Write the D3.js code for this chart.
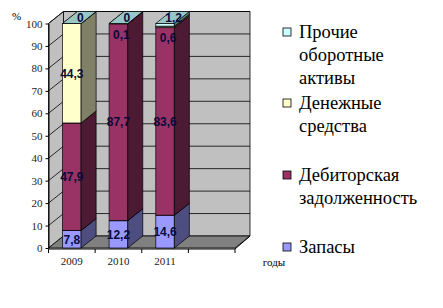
<!DOCTYPE html>
<html>
<head>
<meta charset="utf-8">
<script src="https://cdn.jsdelivr.net/npm/d3@7"></script>
<style>
  html, body { margin: 0; padding: 0; background: #fff; }
  svg { display: block; }
  .serif { font-family: "Liberation Serif", "Times New Roman", "DejaVu Serif", serif; }
  .sans { font-family: "Liberation Sans", Arial, sans-serif; }
</style>
</head>
<body>
<div id="chart"></div>
<script>
// data
var years = ["2009", "2010", "2011"];
var slots = ["2009", "2010", "2011", ""];
var zapasy = [7.8, 12.2, 14.6];
var debitor = [47.9, 87.7, 83.6];
var dengi = [44.3, 0.1, 0.6];
var prochie = [0, 0, 1.2];
var yTicks = [0, 10, 20, 30, 40, 50, 60, 70, 80, 90, 100];
var seriesNames = ["Запасы", "Дебиторская задолженность", "Денежные средства", "Прочие оборотные активы"];

var series = [
    {name: seriesNames[0], values: zapasy, front: "#9999ff", side: "#4d4d80", top: "#7373bf"},
    {name: seriesNames[1], values: debitor, front: "#993366", side: "#4d1a33", top: "#732650"},
    {name: seriesNames[2], values: dengi, front: "#ffffcc", side: "#808066", top: "#bfbf99"},
    {name: seriesNames[3], values: prochie, front: "#ccffff", side: "#668080", top: "#99c6c6"}
];

var width = 443, height = 308;
// 3d depth offset
var dx = 15, dy = -12;

var svg = d3.select("#chart").append("svg")
    .attr("width", width)
    .attr("height", height);

var x = d3.scaleBand()
    .domain(slots)
    .range([48.5, 235]);

var barW = x.bandwidth() * 0.4;

var y = d3.scaleLinear()
    .domain([0, 100])
    .range([248, 23.5]);

var x0 = x.range()[0], x1 = x.range()[1];

const poly = function(pts) {
    return "M" + pts.map(p => p.join(",")).join("L") + "Z";
};

// walls
var walls = svg.append("g");
// back wall
walls.append("path")
    .attr("d", poly([[x0 + dx, y(100) + dy], [x1 + dx, y(100) + dy], [x1 + dx, y(0) + dy], [x0 + dx, y(0) + dy]]))
    .attr("fill", "#c0c0c0")
    .attr("stroke", "#000")
    .attr("stroke-width", 0.8);
// side wall
walls.append("path")
    .attr("d", poly([[x0, y(100)], [x0 + dx, y(100) + dy], [x0 + dx, y(0) + dy], [x0, y(0)]]))
    .attr("fill", "#c0c0c0")
    .attr("stroke", "#000")
    .attr("stroke-width", 0.8);
// floor
walls.append("path")
    .attr("d", poly([[x0, y(0)], [x0 + dx, y(0) + dy], [x1 + dx, y(0) + dy], [x1, y(0)]]))
    .attr("fill", "#808080")
    .attr("stroke", "#000")
    .attr("stroke-width", 0.8);

// gridlines
var grid = svg.append("g");
yTicks.filter(t => t > 0).forEach(function(t) {
    grid.append("path")
        .attr("d", "M" + x0 + "," + y(t) + "L" + (x0 + dx) + "," + (y(t) + dy) + "L" + (x1 + dx) + "," + (y(t) + dy))
        .attr("fill", "none")
        .attr("stroke", "#000")
        .attr("stroke-width", 0.8);
});

// y axis
var yAxis = svg.append("g")
    .attr("transform", "translate(" + x0 + ",0)")
    .call(d3.axisLeft(y).tickValues(yTicks).tickSize(3).tickSizeOuter(0).tickFormat(d3.format("d")));
yAxis.attr("font-family", null);
yAxis.select(".domain").attr("stroke", "#000");
yAxis.selectAll("text")
    .attr("class", "serif")
    .attr("font-size", 11)
    .attr("fill", "#222");

// x axis
var xAxis = svg.append("g")
    .attr("transform", "translate(0," + (y(0) + 1) + ")");
xAxis.append("line")
    .attr("x1", x0).attr("x2", x1)
    .attr("stroke", "#000");
xAxis.selectAll(".tk").data(slots.concat(["end"])).enter().append("line")
    .attr("x1", (d, i) => x0 + i * x.step())
    .attr("x2", (d, i) => x0 + i * x.step())
    .attr("y1", 0).attr("y2", 4)
    .attr("stroke", "#000");
xAxis.selectAll(".lbl").data(years).enter().append("text")
    .attr("class", "serif")
    .attr("x", d => x(d) + x.bandwidth() / 2)
    .attr("y", 16)
    .attr("text-anchor", "middle")
    .attr("font-size", 11)
    .attr("fill", "#222")
    .text(d => d);

// right edge of floor
svg.append("path")
    .attr("d", "M" + x1 + "," + (y(0) + 1) + "L" + (x1 + dx) + "," + (y(0) + dy))
    .attr("stroke", "#000")
    .attr("fill", "none");

// bars
var bars = svg.append("g");
var fmt = v => String(v).replace(".", ",");
var labels = [];
years.forEach(function(yr, i) {
    var bx = x(yr) + (x.bandwidth() - barW) / 2;
    var base = 0;
    series.forEach(function(s, si) {
        var v = s.values[i];
        var yb = y(base), yt = y(base + v);
        var g = bars.append("g");
        g.append("path")
            .attr("d", poly([[bx, yt], [bx + barW, yt], [bx + barW, yb], [bx, yb]]))
            .attr("fill", s.front).attr("stroke", "#000").attr("stroke-width", 0.7);
        g.append("path")
            .attr("d", poly([[bx + barW, yt], [bx + barW + dx, yt + dy], [bx + barW + dx, yb + dy], [bx + barW, yb]]))
            .attr("fill", s.side).attr("stroke", "#000").attr("stroke-width", 0.7);
        g.append("path")
            .attr("d", poly([[bx, yt], [bx + dx, yt + dy], [bx + barW + dx, yt + dy], [bx + barW, yt]]))
            .attr("fill", s.top).attr("stroke", "#000").attr("stroke-width", 0.7);

        var lx = bx + barW / 2, ly = (yb + yt) / 2;
        if (si === series.length - 1) {
            // top series label sits on the top face
            lx = bx + barW / 2 + dx / 2 + 1;
            ly = yt + dy / 2;
        } else if (yb - yt < 8) {
            // thin segment: label pushed below
            lx = bx + barW / 2 + 3;
            ly = (yb + yt) / 2 + 11;
        }
        labels.push({x: lx, y: ly, text: fmt(v)});
        base += v;
    });
});

svg.append("g").selectAll("text").data(labels).enter().append("text")
    .attr("class", "sans")
    .attr("x", d => d.x)
    .attr("y", d => d.y)
    .attr("dy", "0.36em")
    .attr("text-anchor", "middle")
    .attr("font-weight", "bold")
    .attr("font-size", 12)
    .attr("fill", "#0a0a3a")
    .text(d => d.text);

// axis titles
svg.append("text")
    .attr("class", "serif")
    .attr("x", 12).attr("y", 20)
    .attr("font-size", 11)
    .text("%");
svg.append("text")
    .attr("class", "serif")
    .attr("x", 274).attr("y", 266)
    .attr("text-anchor", "middle")
    .attr("font-size", 11)
    .text("годы");

// legend
var legendItems = [
    {s: series[3], lines: ["Прочие", "оборотные", "активы"], y: 32},
    {s: series[2], lines: ["Денежные", "средства"], y: 103},
    {s: series[1], lines: ["Дебиторская", "задолженность"], y: 175},
    {s: series[0], lines: ["Запасы"], y: 247}
];
var legend = svg.append("g");
legendItems.forEach(function(it) {
    legend.append("rect")
        .attr("x", 283).attr("y", it.y - 4)
        .attr("width", 8).attr("height", 8)
        .attr("fill", it.s.front)
        .attr("stroke", "#000")
        .attr("stroke-width", 0.8);
    var t = legend.append("text")
        .attr("class", "serif")
        .attr("x", 299).attr("y", it.y)
        .attr("font-size", 18.5)
        .attr("fill", "#000");
    it.lines.forEach(function(l, li) {
        t.append("tspan").attr("x", 299).attr("dy", li === 0 ? "0.35em" : 23).text(l);
    });
});
</script>
</body>
</html>
